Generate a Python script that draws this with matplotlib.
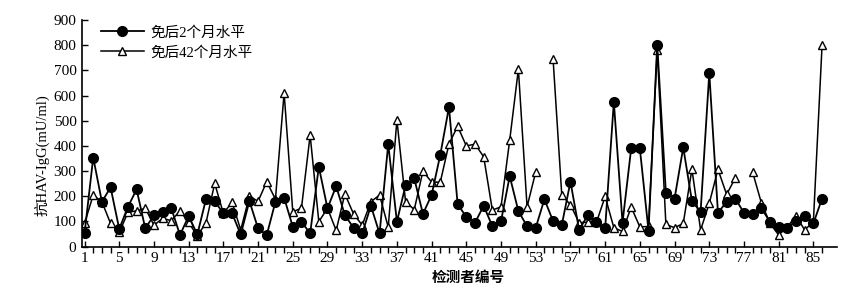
import numpy as np
import matplotlib
matplotlib.use("Agg")
from matplotlib import pyplot as plt

# 检测者编号 1..86
subject_ids = list(range(1, 87))

# 免后2个月水平 (mU/ml)
month2 = [52, 354, 178, 235, 70, 158, 227, 72, 125, 136,
          152, 46, 121, 48, 189, 180, 132, 132, 48, 181,
          72, 46, 178, 194, 79, 99, 52, 317, 152, 240,
          125, 75, 52, 162, 52, 407, 99, 244, 271, 130,
          205, 365, 554, 168, 118, 95, 162, 81, 101, 280,
          141, 81, 75, 188, 101, 85, 258, 66, 125, 99,
          72, 575, 95, 390, 390, 62, 803, 214, 191, 394,
          181, 138, 690, 134, 178, 191, 134, 128, 152, 99,
          79, 75, 101, 121, 92, 191]

# 免后42个月水平 (mU/ml); nan = 缺失
month42 = [92, 205, 178, 92, 56, 136, 142, 152, 85, 112,
           103, 142, 96, 42, 95, 251, 132, 176, 66, 200,
           180, 258, 188, 611, 138, 153, 443, 99, 152, 64,
           209, 130, 85, 178, 205, 77, 503, 178, 147, 300,
           256, 256, 408, 478, 400, 407, 357, 145, 158, 423,
           705, 158, 297, np.nan, 744, 205, 166, 95, 97, 97,
           199, 75, 60, 157, 78, 80, 783, 88, 75, 92,
           307, 66, 172, 307, 207, 273, np.nan, 295, 174, 92,
           46, 79, 121, 66, 99, 801]

legend_labels = ["免后2个月水平", "免后42个月水平"]
x_ticks = list(range(1, 87, 4))
y_ticks = list(range(0, 1000, 100))

fam = ["Liberation Serif", "Noto Sans CJK SC"]
plt.rcParams["font.family"] = fam

fig = plt.figure(figsize=(8.5, 2.96), dpi=100)
ax = fig.add_axes([0.0965, 0.167, 0.888, 0.765])

ax.plot(subject_ids, month2, color="black", lw=1.3, marker="o",
        markersize=7, markerfacecolor="black", label=legend_labels[0], zorder=3)
ax.plot(subject_ids, month42, color="black", lw=1.1, marker="^",
        markersize=5.5, markerfacecolor="white", markeredgewidth=1.0,
        label=legend_labels[1], zorder=2)

ax.set_xlim(0.71, 87.7)
ax.set_ylim(0, 900)
ax.set_xticks(x_ticks)
ax.set_xticks(subject_ids, minor=True)
ax.set_yticks(y_ticks)
ax.tick_params(axis="both", direction="in", labelsize=11, width=1, pad=4)
ax.tick_params(axis="x", which="major", length=4)
ax.tick_params(axis="x", which="minor", length=4, width=1)
ax.tick_params(axis="y", length=4)
for s in ["top", "right"]:
    ax.spines[s].set_visible(False)
for s in ["left", "bottom"]:
    ax.spines[s].set_linewidth(1.2)

leg = ax.legend(loc="upper left", bbox_to_anchor=(0.012, 1.02), frameon=False,
                handlelength=2.9, handletextpad=0.5,
                prop={"family": fam, "size": 10.5},
                labelspacing=0.45, borderaxespad=0.3)

fig.text(42 / 850, 1 - 155 / 296, "抗HAV-IgG(mU/ml)", rotation=90,
         ha="center", va="center", fontsize=10.5, family=fam)
fig.text(468 / 850, 1 - 277 / 296, "检测者编号", ha="center", va="center",
         fontsize=10.5, fontweight="bold", family=["Noto Sans CJK SC"])

fig.savefig("out.png", dpi=100)
